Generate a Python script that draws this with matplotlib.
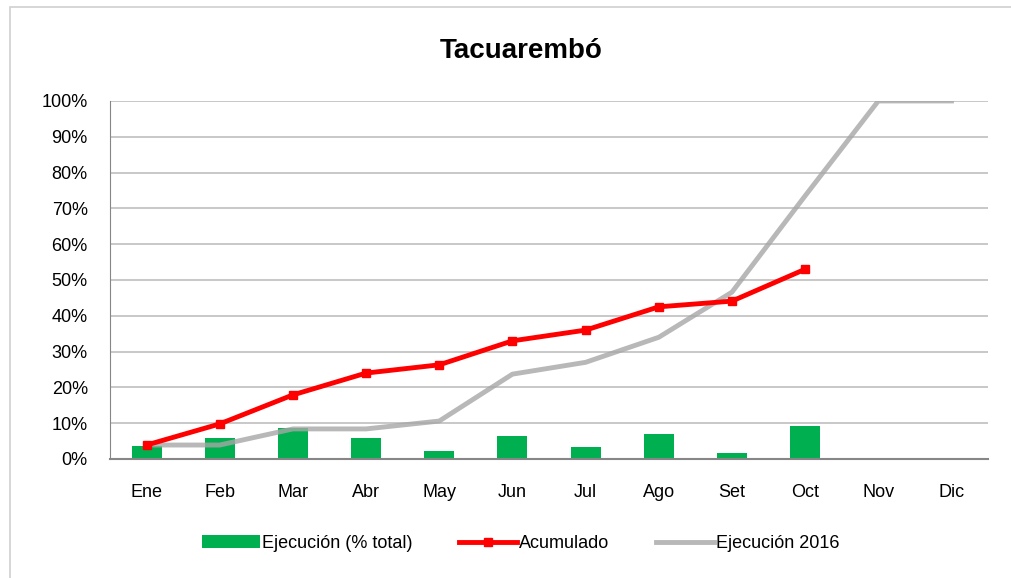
import matplotlib.pyplot as plt
import numpy as np
from matplotlib.patches import Rectangle

plt.rcParams['font.family'] = ['Liberation Sans Narrow', 'Liberation Sans', 'DejaVu Sans']

meses = ['Ene', 'Feb', 'Mar', 'Abr', 'May', 'Jun', 'Jul', 'Ago', 'Set', 'Oct', 'Nov', 'Dic']
ejecucion = [3.7, 5.9, 8.6, 5.9, 2.1, 6.5, 3.3, 7.0, 1.7, 9.1]
acumulado = [3.9, 9.8, 17.9, 24.0, 26.3, 33.0, 36.0, 42.5, 44.1, 53.0]
ejec_2016 = [3.9, 3.9, 8.4, 8.4, 10.6, 23.7, 27.0, 34.0, 46.6, 73.5, 100.0, 100.0]

fig = plt.figure(figsize=(10.11, 5.78), dpi=100)
ax = fig.add_axes([0.1088, 0.2059, 0.8685, 0.6194])

x = np.arange(len(meses))
b = ax.bar(x[:len(ejecucion)], ejecucion, width=0.41, color='#00b050',
           label='Ejecución (% total)', zorder=2)
l1, = ax.plot(x[:len(acumulado)], acumulado, color='#ff0000', lw=3.5, marker='s',
              markersize=6, label='Acumulado', zorder=4)
l2, = ax.plot(x, ejec_2016, color='#a6a6a6', lw=3.5, alpha=0.8,
              label='Ejecución 2016', zorder=3)

ax.set_xlim(-0.5, 11.5)
ax.set_ylim(0, 100)
ax.set_yticks(np.arange(0, 101, 10))
ax.set_yticklabels([f'{v}%' for v in range(0, 101, 10)])
ax.set_xticks(x)
ax.set_xticklabels(meses)
ax.tick_params(axis='both', length=0, labelsize=13)
ax.tick_params(axis='x', pad=18)
ax.tick_params(axis='y', pad=16)
ax.grid(axis='y', color='#bfbfbf', lw=1.2, zorder=0)
ax.set_axisbelow(True)
for s in ['top', 'right']:
    ax.spines[s].set_visible(False)
ax.spines['left'].set_color('#868686')
ax.spines['bottom'].set_color('#868686')
ax.spines['bottom'].set_linewidth(1.5)

fig.text(0.516, 0.912, 'Tacuarembó', ha='center', va='center',
         fontsize=20, fontweight='bold')

fig.legend([b, l1, l2], ['Ejecución (% total)', 'Acumulado', 'Ejecución 2016'],
           loc='center', bbox_to_anchor=(0.515, 0.06), ncol=3, frameon=False,
           fontsize=13, handlelength=3.2, handletextpad=0.1, columnspacing=2.6)

fig.patches.append(Rectangle((0.01, -0.1), 1.2, 1.088, transform=fig.transFigure,
                             fill=False, edgecolor='#d0d0d0', lw=1.2))

fig.savefig('out.png', dpi=100)
